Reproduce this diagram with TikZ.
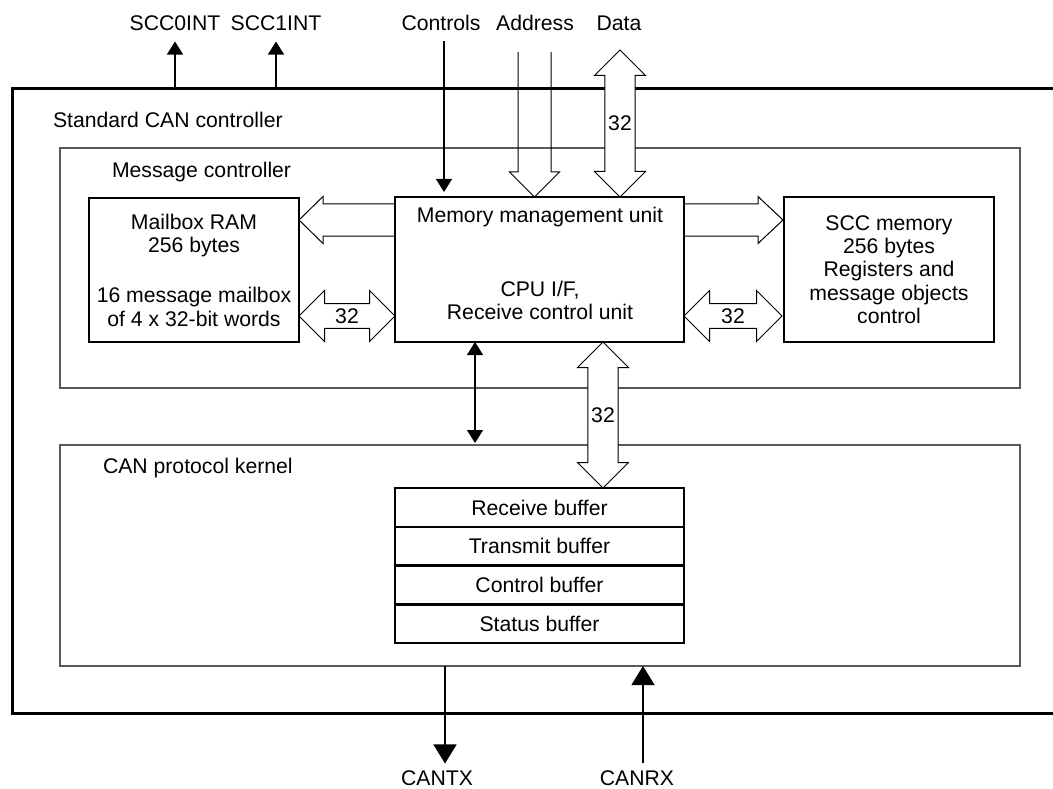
\documentclass[tikz,border=0pt]{standalone}
\usepackage{fontspec}
\setmainfont{Liberation Sans}
\usetikzlibrary{arrows.meta,shapes.arrows,positioning}

\tikzset{
	blk/.style={draw, line width=2.5pt, align=center},
	grpbox/.style={draw=black!65, line width=1.2pt, minimum width=960pt},
	bufrow/.style={draw, line width=2.5pt, minimum width=289pt, minimum height=38.75pt},
	busline/.style={line width=1pt, line join=miter},
	bustwo/.style={draw, fill=white, line width=1pt, double arrow, double arrow head extend=8.5pt, double arrow tip angle=90, minimum width=51pt},
	sig/.style={line width=1.2pt},
	pin/.style={line width=1.2pt, -{Triangle[length=19pt,width=23pt]}},
}

\begin{document}
\begin{tikzpicture}[x=1pt, y=-1pt, font=\fontsize{21.2}{23.3}\selectfont, inner sep=0pt, outer sep=0pt, >={Triangle[length=13pt,width=16pt]}]
	\useasboundingbox (0,0) rectangle (1053,789);

	% outer controller frame (open to the right)
	\coordinate (topline) at (12,89);
	\coordinate (botline) at (12,713);
	\draw[line width=3pt] (1053,89) -- (topline) -- (botline) -- (1053,713);
	\node[anchor=west] (stdlbl) at (53,120) {Standard CAN controller};

	% --- message controller ---
	\node[grpbox, minimum height=240pt] (msgctl) at (540,268) {};
	\node[anchor=west] (msglbl) at (112,172) {Message controller};

	\node[blk, minimum width=210pt, minimum height=144pt] (mbox) at (194,270)
		{Mailbox RAM\\256 bytes\\[27pt]16 message mailbox\\of 4 x 32-bit words};
	\node[blk, minimum width=289pt, minimum height=145pt] (mmu) at (539.5,269.5) {};
	\node (mmutop) at (540,217) {Memory management unit};
	\node[align=center] (mmubot) at (540,300.5) {CPU I/F,\\Receive control unit};
	\node[blk, minimum width=210pt, minimum height=145pt] (sccmem) at (889,269.5)
		{SCC memory\\256 bytes\\Registers and\\message objects\\control};

	% --- CAN protocol kernel ---
	\node[grpbox, minimum height=221pt] (kernel) at (540,555.5) {};
	\node[anchor=west] (kernlbl) at (103,468) {CAN protocol kernel};

	\foreach \n/\t [count=\i] in {rxbuf/Receive buffer, txbuf/Transmit buffer, ctlbuf/Control buffer, statbuf/Status buffer} {
		\node[bufrow] (\n) at (539.5, 468.75+38.75*\i) {\t};
	}

	% --- outside signals ---
	\node (scc0) at (175,23) {SCC0INT};
	\node (scc1) at (276,23) {SCC1INT};
	\node (ctrl) at (441,23) {Controls};
	\node (addr) at (535,23) {Address};
	\node (data) at (619,23) {Data};
	\node (cantx) at (437,778) {CANTX};
	\node (canrx) at (637,778) {CANRX};

	% buses (open outline arrows)
	\coordinate (addrtip) at (534.5,197);
	\draw[busline] (addrtip) ++(-16.5,-145) -- ++(0,120) -- ++(-8.5,0) -- (addrtip)
		-- ++(25,-25) -- ++(-8.5,0) -- ++(0,-120);
	\coordinate (lftip) at (299,220);
	\draw[busline] (lftip) ++(96,-16) -- ++(-72,0) -- ++(0,-7.5) -- (lftip)
		-- ++(24,23.5) -- ++(0,-7.5) -- ++(72,0);
	\coordinate (rttip) at (783,220);
	\draw[busline] (rttip) ++(-99,-16) -- ++(74,0) -- ++(0,-7.5) -- (rttip)
		-- ++(-25,23.5) -- ++(0,-7.5) -- ++(-74,0);

	\node[bustwo, shape border rotate=90, minimum height=147pt] (databus) at (620,123.5) {32};
	\node[bustwo, minimum height=96pt] (mboxbus) at (347,316) {32};
	\node[bustwo, minimum height=98pt] (sccbus) at (733,316) {32};
	\node[bustwo, shape border rotate=90, minimum height=146pt] (kernbus) at (603,415) {32};

	% single lines
	\draw[sig, ->, shorten >=11pt] (scc0.south |- topline) -- (scc0.south);
	\draw[sig, ->, shorten >=11pt] (scc1.south |- topline) -- (scc1.south);
	\coordinate (ctrlin) at (444,41);
	\draw[sig, ->, shorten >=5pt] (ctrlin) -- (ctrlin |- mmu.north);
	\coordinate (ctlk) at (475,0);
	\draw[sig, <->, shorten >=2pt] (ctlk |- mmu.south) -- (ctlk |- kernel.north);
	\coordinate (txpin) at (445,0);
	\coordinate (rxpin) at (643,0);
	\draw[pin, shorten >=7pt] (txpin |- kernel.south) -- (txpin |- cantx.north);
	\draw[pin, shorten <=8pt] (rxpin |- canrx.north) -- (rxpin |- kernel.south);

\end{tikzpicture}
\end{document}
